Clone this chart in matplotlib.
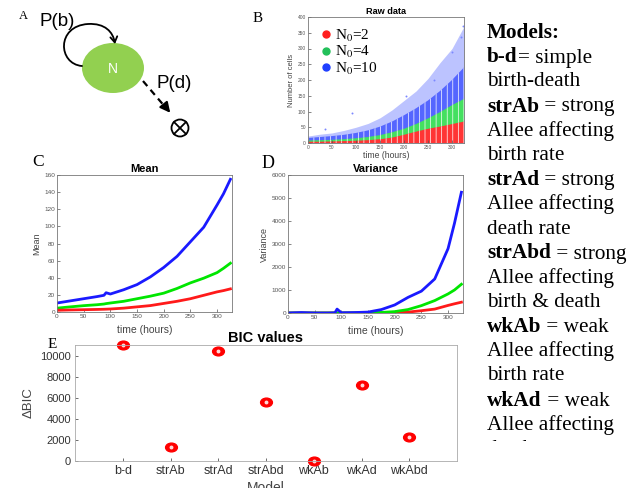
import matplotlib
matplotlib.use("Agg")
import matplotlib.pyplot as plt
from matplotlib.patches import Ellipse, Circle, FancyArrowPatch
from matplotlib.path import Path
from matplotlib.transforms import Affine2D
from matplotlib.lines import Line2D

plt.rcParams["font.family"] = ["Liberation Sans", "DejaVu Sans"]
plt.rcParams["mathtext.fontset"] = "stix"
plt.rcParams["hatch.linewidth"] = 0.5

# ---- data ----
# B: raw data envelopes
t_raw = [0, 25, 50, 75, 100, 125, 150, 175, 200, 225, 250, 275, 300, 325]
red_hi = [4, 4, 5, 6, 7, 9, 12, 17, 26, 36, 45, 52, 60, 68]
green_hi = [8, 9, 10, 12, 15, 19, 25, 34, 45, 60, 78, 98, 120, 140]
blue_dense = [16, 19, 22, 26, 32, 40, 52, 68, 88, 110, 135, 165, 200, 240]
blue_hi = [22, 28, 32, 40, 50, 62, 80, 105, 135, 165, 205, 255, 300, 370]
blue_out_t = [35, 92, 205, 262, 300, 318, 322]
blue_out_y = [45, 95, 150, 200, 290, 335, 370]

# C / D: mean and variance
t_stat = [0, 25, 50, 75, 88, 92, 100, 125, 150, 175, 200, 225, 250, 275, 300, 312, 325]
mean_blue = [10.5, 13, 15.5, 18, 19.5, 22.5, 21, 26, 32, 41, 52, 65, 82, 99, 125, 138, 155]
mean_green = [4.5, 6, 7.4, 8.5, 9.3, 9.8, 10.5, 12.5, 15.5, 18.5, 22, 27.5, 34, 39.5, 46, 51, 57]
mean_red = [2, 2.4, 2.7, 3, 3.2, 3.3, 3.5, 4.5, 6, 7.5, 10, 12.5, 15.5, 19.5, 23.5, 25, 27]
var_blue = [0, 20, 0, 0, 10, 170, 10, 20, 40, 150, 350, 680, 950, 1480, 2800, 3900, 5250]
var_green = [0, 0, 0, 0, 0, 0, 0, 5, 10, 25, 60, 150, 320, 540, 830, 1000, 1250]
var_red = [0, 0, 0, 0, 0, 0, 0, 0, 2, 5, 12, 40, 100, 170, 330, 400, 470]

# E: BIC values
models = ["b-d", "strAb", "strAd", "strAbd", "wkAb", "wkAd", "wkAbd"]
delta_bic = [11000, 1300, 10400, 5600, 0, 7200, 2250]

legend_labels = ["N$_0$=2", "N$_0$=4", "N$_0$=10"]

# right-hand text: (bold part, regular part)
model_notes = [
    ("Models:", ""),
    ("b-d", "= simple"),
    ("", "birth-death"),
    ("strAb", " = strong"),
    ("", "Allee affecting"),
    ("", "birth rate"),
    ("strAd", " = strong"),
    ("", "Allee affecting"),
    ("", "death rate"),
    ("strAbd", " = strong"),
    ("", "Allee affecting"),
    ("", "birth & death"),
    ("wkAb", " = weak"),
    ("", "Allee affecting"),
    ("", "birth rate"),
    ("wkAd", " = weak"),
    ("", "Allee affecting"),
    ("", "death rate"),
]

W, H = 638, 488
fig = plt.figure(figsize=(W / 100, H / 100), dpi=100)


def px_axes(x0, y0, x1, y1):
    return fig.add_axes([x0 / W, 1 - y1 / H, (x1 - x0) / W, (y1 - y0) / H])


def matlab_box(ax, fs, col="#777777"):
    ax.tick_params(direction="in", length=2, width=0.5, labelsize=fs,
                   colors="#555555", pad=1.5)
    for s in ax.spines.values():
        s.set_color(col)
        s.set_linewidth(0.6)


serif = ["Liberation Serif", "DejaVu Serif"]
RED, GREEN, BLUE = "#ff1a1a", "#00e600", "#1a1aff"

# ---- A: diagram ----
ax_a = px_axes(0, 0, 260, 150)
ax_a.set_xlim(0, 260)
ax_a.set_ylim(150, 0)
ax_a.axis("off")
ax_a.add_patch(Ellipse((113, 68), 62, 50, color="#92d050", lw=0))
ax_a.text(113, 69, "N", color="white", fontsize=10, ha="center", va="center")
loop = Path([(82, 66), (58, 64), (56, 26), (88, 24), (105, 23), (113, 32), (115, 44)],
            [Path.MOVETO] + [Path.CURVE4] * 6)
ax_a.add_patch(FancyArrowPatch(path=loop, arrowstyle="->,head_length=4,head_width=2.5",
                               lw=1.3, color="black"))
ax_a.plot([143, 166], [81, 108], color="black", lw=1.6, ls=(0, (3, 2.2)))
ax_a.annotate("", xy=(172, 115), xytext=(164, 105),
              arrowprops=dict(arrowstyle="-|>,head_length=0.6,head_width=0.3",
                              lw=1.5, color="black", mutation_scale=10))
ax_a.add_patch(Circle((180, 128), 8.5, fill=False, lw=1.3, color="black"))
ax_a.plot([174, 186], [122, 134], color="black", lw=1.3)
ax_a.plot([174, 186], [134, 122], color="black", lw=1.3)
ax_a.text(23, 16, "A", fontsize=9, family=serif, ha="center", va="center")
ax_a.text(57, 22, "P(b)", fontsize=13.5, ha="center", va="center")
ax_a.text(174, 84, "P(d)", fontsize=13.5, ha="center", va="center")

# ---- B: raw data ----
ax_b = px_axes(308, 17, 464, 143)
ax_b.fill_between(t_raw, 0, blue_hi, color="#bcc3ff", lw=0)
ax_b.fill_between(t_raw, 0, blue_dense, facecolor="#5566ff", edgecolor="white",
                  hatch="|||", lw=0)
ax_b.fill_between(t_raw, 0, green_hi, facecolor="#44e060", edgecolor="white",
                  hatch="|||", lw=0)
ax_b.fill_between(t_raw, 0, red_hi, facecolor="#ff3535", edgecolor="white",
                  hatch="|||", lw=0)
ax_b.scatter(blue_out_t, blue_out_y, s=2, color="#7c88ff", lw=0)
ax_b.set_xlim(0, 325)
ax_b.set_ylim(0, 400)
ax_b.set_xticks(range(0, 301, 50))
ax_b.set_yticks(range(0, 401, 50))
matlab_box(ax_b, 3.5)
ax_b.set_title("Raw data", fontsize=6.6, fontweight="bold", pad=2)
ax_b.set_xlabel("time (hours)", fontsize=6.2, color="#444444", labelpad=1)
ax_b.set_ylabel("Number of cells", fontsize=5.5, color="#444444", labelpad=2)
handles = [Line2D([], [], ls="", marker="o", ms=5, color=c)
           for c in ["#ff1f1f", "#22c05a", "#1f3fff"]]
ax_b.legend(handles, legend_labels, loc="upper left", bbox_to_anchor=(-0.005, 1.0),
            frameon=False, prop={"family": serif, "size": 11},
            handletextpad=0.1, labelspacing=0.02, handlelength=1.0, borderaxespad=0.3)
fig.text(258 / W, 1 - 18 / H, "B", fontsize=11, family=serif, ha="center", va="center")

# ---- C: mean ----
ax_c = px_axes(57, 175, 232, 312)
ax_c.plot(t_stat, mean_blue, color=BLUE, lw=2)
ax_c.plot(t_stat, mean_green, color=GREEN, lw=2)
ax_c.plot(t_stat, mean_red, color=RED, lw=2)
ax_c.set_xlim(0, 328)
ax_c.set_ylim(0, 160)
ax_c.set_xticks(range(0, 301, 50))
ax_c.set_yticks(range(0, 161, 20))
matlab_box(ax_c, 4.6)
ax_c.set_title("Mean", fontsize=8, fontweight="bold", pad=2)
ax_c.set_xlabel("time (hours)", fontsize=7.5, color="#444444", labelpad=4)
ax_c.set_ylabel("Mean", fontsize=6.5, color="#444444", labelpad=2)
fig.text(38 / W, 1 - 162 / H, "C", fontsize=12.5, family=serif, ha="center", va="center")

# ---- D: variance ----
ax_d = px_axes(288, 175, 463, 313)
ax_d.plot(t_stat, var_red, color=RED, lw=2)
ax_d.plot(t_stat, var_green, color=GREEN, lw=2)
ax_d.plot(t_stat, var_blue, color=BLUE, lw=2)
ax_d.set_xlim(0, 328)
ax_d.set_ylim(0, 6000)
ax_d.set_xticks(range(0, 301, 50))
ax_d.set_yticks(range(0, 6001, 1000))
matlab_box(ax_d, 4.6)
ax_d.set_title("Variance", fontsize=8, fontweight="bold", pad=2)
ax_d.set_xlabel("time (hours)", fontsize=7.5, color="#444444", labelpad=4)
ax_d.set_ylabel("Variance", fontsize=6.5, color="#444444", labelpad=2)
fig.text(268 / W, 1 - 163 / H, "D", fontsize=13, family=serif, ha="center", va="center")

# ---- E: BIC ----
ax_e = px_axes(75, 345, 457, 461)
ell = Affine2D().scale(1.35, 1.0).transform_path(Path.unit_circle())
xs = list(range(1, len(models) + 1))
ax_e.plot(xs, delta_bic, ls="", marker=ell, ms=8.5, color="red", clip_on=False)
ax_e.plot(xs, delta_bic, ls="", marker="o", ms=1.8, color="#ffd8d8", clip_on=False)
ax_e.set_xlim(0, 8)
ax_e.set_ylim(0, 11000)
ax_e.set_xticks(xs)
ax_e.set_xticklabels(models)
ax_e.set_yticks(range(0, 10001, 2000))
matlab_box(ax_e, 9, col="#aaaaaa")
ax_e.tick_params(axis="y", labelsize=8)
ax_e.tick_params(colors="#333333", pad=3)
ax_e.set_title("BIC values", fontsize=10.5, fontweight="bold", pad=2)
ax_e.set_xlabel("Model", fontsize=10, color="#444444", labelpad=3)
ax_e.set_ylabel("\u0394BIC", fontsize=9.5, color="#444444", labelpad=4)
fig.text(52 / W, 1 - 345 / H, "E", fontsize=11, family=serif, ha="center", va="center")

# ---- right-hand notes ----
ax_t = px_axes(470, 0, 638, 441)
ax_t.set_xlim(470, 638)
ax_t.set_ylim(441, 0)
ax_t.axis("off")
for i, (b, r) in enumerate(model_notes):
    y = 33 + 24.5 * i
    if b:
        tb = ax_t.text(487, y, b, fontsize=15.3, family=serif, fontweight="bold",
                       va="center", ha="left", clip_on=True)
        if r:
            ax_t.annotate(r, xy=(1, 0), xycoords=tb, va="bottom", ha="left",
                          fontsize=15.3, family=serif)
    else:
        ax_t.text(487, y, r, fontsize=15.3, family=serif, va="center", ha="left",
                  clip_on=True)

fig.savefig("out.png", dpi=100, facecolor="white")
